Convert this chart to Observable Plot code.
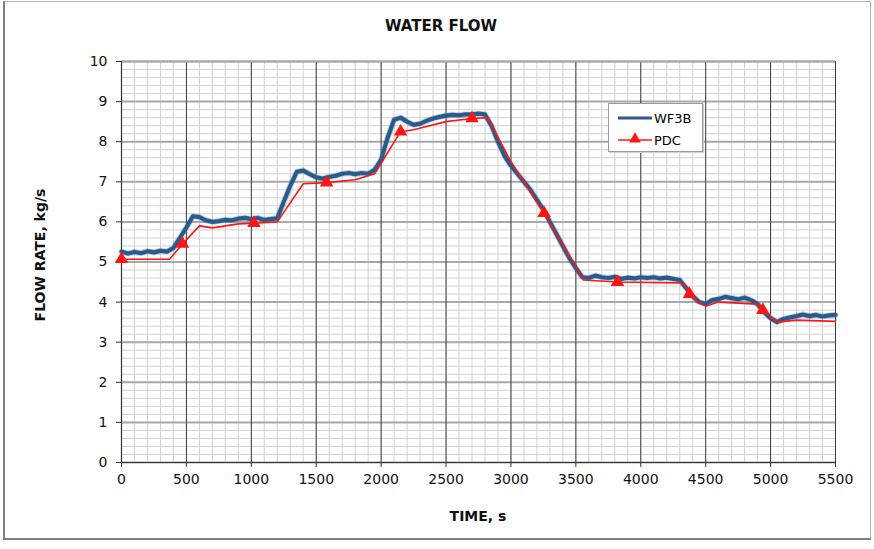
<!DOCTYPE html>
<html>
<head>
<meta charset="utf-8">
<script src="https://cdn.jsdelivr.net/npm/d3@7"></script>
<script src="https://cdn.jsdelivr.net/npm/@observablehq/plot@0.6"></script>
<style>
  body { margin: 0; background: #fff; }
  #chart { position: relative; width: 874px; height: 549px; overflow: hidden; font-family: "DejaVu Sans", sans-serif; color: #111; }
  #frame { position: absolute; left: 3px; top: 1px; width: 868px; height: 539px; box-sizing: border-box;
           border: 1px solid #b0b0b0; border-left: 2px solid #808080; border-bottom: 2px solid #808080; }
  #title { position: absolute; left: 0; top: 17px; width: 882px; text-align: center; font-weight: bold; font-size: 15px; }
  #plot { position: absolute; left: 0; top: 40px; }
  #xlabel { position: absolute; left: 0; top: 508px; width: 956px; text-align: center; font-weight: bold; font-size: 14px; }
  #ylabel { position: absolute; left: 40px; top: 255px; transform: translate(-50%, -50%) rotate(-90deg); white-space: nowrap; font-weight: bold; font-size: 14px; }
  #legend { position: absolute; left: 608px; top: 103px; width: 95px; height: 49px; box-sizing: border-box;
            background: #fff; border: 1px solid #9a9a9a; box-shadow: 1px 1px 0 #d0d0d0; }
  #legend svg { position: absolute; left: 0; top: 0; }
</style>
</head>
<body>
<div id="chart">
  <div id="frame"></div>
  <div id="title">WATER FLOW</div>
  <div id="plot"></div>
  <div id="xlabel">TIME, s</div>
  <div id="ylabel">FLOW RATE, kg/s</div>
  <div id="legend"></div>
</div>
<script>
// Measured flow rate, WF3B (sampled every 50 s)
const wf3bTime = [
  0, 50, 100, 150, 200, 250, 300, 350, 400, 450,
  500, 550, 600, 650, 700, 750, 800, 850, 900, 950,
  1000, 1050, 1100, 1150, 1200, 1250, 1300, 1350, 1400, 1450,
  1500, 1550, 1600, 1650, 1700, 1750, 1800, 1850, 1900, 1950,
  2000, 2050, 2100, 2150, 2200, 2250, 2300, 2350, 2400, 2450,
  2500, 2550, 2600, 2650, 2700, 2750, 2800, 2850, 2900, 2950,
  3000, 3050, 3100, 3150, 3200, 3250, 3300, 3350, 3400, 3450,
  3500, 3550, 3600, 3650, 3700, 3750, 3800, 3850, 3900, 3950,
  4000, 4050, 4100, 4150, 4200, 4250, 4300, 4350, 4400, 4450,
  4500, 4550, 4600, 4650, 4700, 4750, 4800, 4850, 4900, 4950,
  5000, 5050, 5100, 5150, 5200, 5250, 5300, 5350, 5400, 5450, 5500
];
const wf3bFlow = [
  5.26, 5.21, 5.25, 5.22, 5.27, 5.24, 5.28, 5.26, 5.35, 5.6,
  5.86, 6.14, 6.12, 6.04, 6.0, 6.02, 6.05, 6.04, 6.08, 6.1,
  6.07, 6.1, 6.05, 6.07, 6.09, 6.5, 6.9, 7.25, 7.28, 7.19,
  7.11, 7.08, 7.12, 7.15, 7.2, 7.22, 7.19, 7.22, 7.2, 7.3,
  7.55, 8.1, 8.55, 8.6, 8.5, 8.42, 8.45, 8.52, 8.58, 8.62,
  8.65, 8.67, 8.66, 8.68, 8.68, 8.7, 8.68, 8.4, 8.0, 7.65,
  7.4, 7.2, 7.0, 6.8, 6.55, 6.3, 6.0, 5.7, 5.4, 5.1,
  4.85, 4.62, 4.6, 4.66, 4.62, 4.6, 4.63, 4.58, 4.61, 4.59,
  4.62, 4.6, 4.62, 4.59, 4.61, 4.58, 4.55, 4.35, 4.15, 4.0,
  3.95, 4.05, 4.08, 4.13, 4.1, 4.07, 4.11, 4.05, 3.95, 3.75,
  3.6, 3.5, 3.58, 3.62, 3.65, 3.69, 3.65, 3.68, 3.64, 3.67, 3.68
];

// Predicted flow rate, PDC
const pdcTime = [
  0, 370, 470, 600, 700, 900, 1020, 1200, 1400, 1580, 1800, 1950, 2150, 2250, 2500, 2700,
  2820, 3000, 3255, 3560, 3820, 4300, 4340, 4375, 4420, 4500, 4600, 4900, 4940, 5050, 5200, 5500
];
const pdcFlow = [
  5.07, 5.07, 5.45, 5.9, 5.85, 5.95, 5.97, 6.0, 6.95, 6.98, 7.05, 7.2, 8.25, 8.3, 8.5, 8.58,
  8.6, 7.5, 6.22, 4.55, 4.5, 4.48, 4.42, 4.2, 4.05, 3.9, 4.0, 3.95, 3.8, 3.5, 3.55, 3.52
];
// PDC samples that carry a triangle marker
const pdcMarkerTime = [0, 470, 1020, 1580, 2150, 2700, 3255, 3820, 4375, 4940];

// Axis ticks
const xTicks = [0, 500, 1000, 1500, 2000, 2500, 3000, 3500, 4000, 4500, 5000, 5500];
const yTicks = [0, 1, 2, 3, 4, 5, 6, 7, 8, 9, 10];

const wf3b = wf3bTime.map((t, i) => ({time: t, flow: wf3bFlow[i]}));
const pdc = pdcTime.map((t, i) => ({time: t, flow: pdcFlow[i]}));
const pdcMarks = pdc.filter(d => pdcMarkerTime.includes(d.time));

const xMinor = d3.range(0, 5501, 100);
const yMinor = d3.range(0, 10.001, 0.2);

const BLUE = "#2d5a8e";
const RED = "#ff1414";

const chart = Plot.plot({
  width: 874,
  height: 500,
  marginLeft: 121,
  marginRight: 39,
  marginTop: 21,
  marginBottom: 78,
  style: { background: "transparent", fontFamily: "DejaVu Sans, sans-serif", fontSize: "14px", color: "#111" },
  x: { domain: [0, 5500] },
  y: { domain: [0, 10] },
  marks: [
    // minor grid
    Plot.ruleX(xMinor, { stroke: "#d2d2d2", strokeWidth: 1 }),
    Plot.ruleY(yMinor, { stroke: "#d2d2d2", strokeWidth: 1 }),
    // major grid
    Plot.ruleY(yTicks, { stroke: "#a9a9a9", strokeWidth: 2 }),
    Plot.ruleX(xTicks, { stroke: "#3c3c3c", strokeWidth: 1 }),
    Plot.ruleY([10], { stroke: "#a9a9a9", strokeWidth: 2 }),
    Plot.ruleX([0], { stroke: "#333", strokeWidth: 1.2 }),
    Plot.ruleY([0], { stroke: "#333", strokeWidth: 1.2 }),
    // axes
    Plot.axisX(xTicks, { tickSize: 5, tickPadding: 7, label: null, stroke: "#333", fontSize: 14, tickFormat: d => String(d) }),
    Plot.axisY(yTicks, { tickSize: 5, tickPadding: 9, label: null, stroke: "#333", fontSize: 14, tickFormat: d => String(d) }),
    // WF3B measured trace
    Plot.line(wf3b, { x: "time", y: "flow", stroke: "#3f8f9c", strokeWidth: 6, strokeOpacity: 0.35 }),
    Plot.line(wf3b, { x: "time", y: "flow", stroke: BLUE, strokeWidth: 4.2, strokeLinejoin: "round" }),
    // PDC prediction
    Plot.line(pdc, { x: "time", y: "flow", stroke: RED, strokeWidth: 1.6 }),
    Plot.dot(pdcMarks, { x: "time", y: "flow", symbol: "triangle", r: 5, fill: RED, stroke: "none" })
  ]
});
document.getElementById("plot").appendChild(chart);

// legend
const lg = d3.select("#legend").append("svg").attr("width", 95).attr("height", 49)
  .style("font-family", "DejaVu Sans, sans-serif").style("font-size", "13px");
lg.append("line").attr("x1", 9).attr("x2", 43).attr("y1", 14).attr("y2", 14)
  .attr("stroke", BLUE).attr("stroke-width", 3);
lg.append("text").attr("x", 45).attr("y", 18.5).text("WF3B");
lg.append("line").attr("x1", 9).attr("x2", 43).attr("y1", 36).attr("y2", 36)
  .attr("stroke", RED).attr("stroke-width", 1.6);
lg.append("path").attr("transform", "translate(26,35)")
  .attr("d", d3.symbol(d3.symbolTriangle, 60)()).attr("fill", RED);
lg.append("text").attr("x", 45).attr("y", 40.5).text("PDC");
</script>
</body>
</html>
